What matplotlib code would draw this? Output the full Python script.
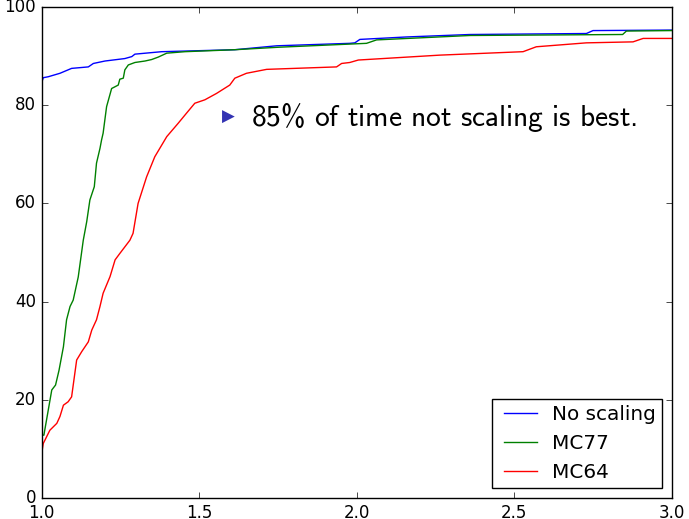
import matplotlib
matplotlib.use('Agg')
import matplotlib.pyplot as plt

# performance profile data
no_scaling_x = [1.0, 1.005, 1.021, 1.058, 1.095, 1.148, 1.164, 1.201, 1.264, 1.286, 1.296,
                1.381, 1.613, 1.746, 1.978, 1.994, 2.01, 2.158, 2.359, 2.729, 2.75, 3.0]
no_scaling_y = [84.6, 85.6, 85.8, 86.5, 87.5, 87.8, 88.5, 89.0, 89.5, 89.9, 90.4,
                90.9, 91.3, 92.1, 92.6, 92.7, 93.4, 93.9, 94.4, 94.6, 95.2, 95.3]

mc77_x = [1.0, 1.007, 1.032, 1.044, 1.055, 1.069, 1.079, 1.09, 1.1, 1.116, 1.132, 1.143,
          1.153, 1.167, 1.174, 1.185, 1.19, 1.195, 1.206, 1.222, 1.243, 1.248, 1.259,
          1.264, 1.275, 1.296, 1.328, 1.349, 1.37, 1.397, 1.455, 1.613, 1.75, 2.031,
          2.063, 2.36, 2.844, 2.856, 3.0]
mc77_y = [12.8, 12.8, 22.0, 23.0, 26.0, 30.8, 36.3, 39.0, 40.3, 45.0, 52.5, 56.3,
          60.7, 63.4, 68.2, 71.2, 72.9, 74.3, 79.7, 83.4, 84.1, 85.3, 85.5,
          87.2, 88.2, 88.7, 89.0, 89.3, 89.8, 90.6, 90.9, 91.3, 91.8, 92.6,
          93.3, 94.2, 94.4, 95.1, 95.2]

mc64_x = [1.0, 1.005, 1.026, 1.048, 1.058, 1.069, 1.084, 1.095, 1.111, 1.127, 1.148,
          1.159, 1.174, 1.185, 1.195, 1.217, 1.233, 1.248, 1.28, 1.29, 1.306, 1.333,
          1.359, 1.397, 1.433, 1.46, 1.486, 1.518, 1.555, 1.597, 1.613, 1.65, 1.714,
          1.936, 1.952, 1.978, 2.005, 2.264, 2.528, 2.57, 2.729, 2.877, 2.909, 3.0]
mc64_y = [9.1, 11.1, 13.8, 15.2, 16.6, 18.9, 19.6, 20.6, 28.1, 29.8, 31.8,
          34.2, 36.3, 39.0, 41.7, 45.1, 48.5, 49.8, 52.5, 53.9, 60.0, 65.4,
          69.5, 73.6, 76.3, 78.4, 80.4, 81.1, 82.4, 84.1, 85.5, 86.5, 87.3,
          87.8, 88.5, 88.7, 89.2, 90.2, 90.9, 91.9, 92.7, 92.9, 93.6, 93.6]

labels = ['No scaling', 'MC77', 'MC64']

plt.style.use('classic')
plt.rcParams['mathtext.fontset'] = 'custom'
plt.rcParams['mathtext.rm'] = 'cmss10'
plt.rcParams['mathtext.sf'] = 'cmss10'

fig = plt.figure(figsize=(6.89, 5.19), dpi=100, facecolor='white')
ax = fig.add_axes([0.0605, 0.0405, 0.9145, 0.946])

ax.plot(no_scaling_x, no_scaling_y, 'b', linewidth=1.0, label=labels[0])
ax.plot(mc77_x, mc77_y, 'g', linewidth=1.0, label=labels[1])
ax.plot(mc64_x, mc64_y, 'r', linewidth=1.0, label=labels[2])

ax.set_xlim(1.0, 3.0)
ax.set_ylim(0, 100)
ax.set_xticks([1.0, 1.5, 2.0, 2.5, 3.0])
ax.set_yticks([0, 20, 40, 60, 80, 100])

# beamer-like bullet + remark
ax.text(1.591, 77.6, '\u25B6', color='#3333b3', fontsize=12, ha='center', va='center')
ax.text(1.664, 77.6, r'$\mathrm{85\%\ of\ time\ not\ scaling\ is\ best.}$',
        fontsize=21.2, ha='left', va='center')

ax.legend(loc='lower right', fontsize=14.4, handlelength=2.25, handletextpad=0.45,
          borderaxespad=0.5, borderpad=0.3)

fig.savefig('out.png', dpi=100, facecolor='white')
